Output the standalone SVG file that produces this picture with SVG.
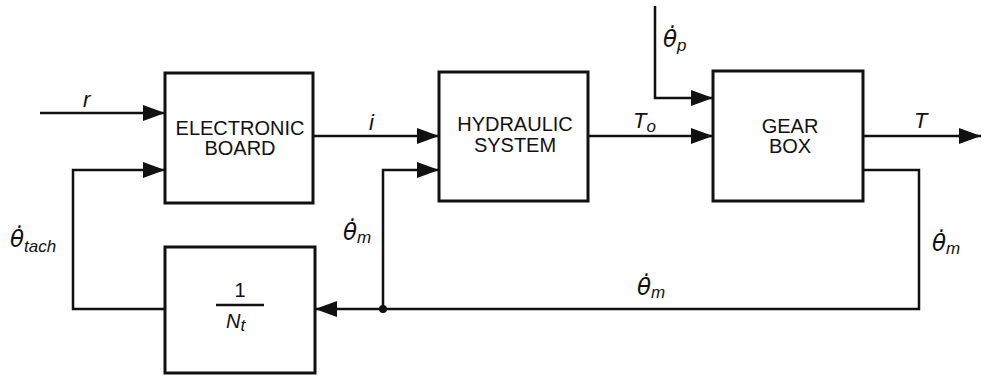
<svg xmlns="http://www.w3.org/2000/svg" width="982" height="379" viewBox="0 0 982 379">
<style>
.box{fill:#fff;stroke:#111;stroke-width:3}
.ln{fill:none;stroke:#111;stroke-width:2.5}
.bt{font-family:"Liberation Sans",Arial,sans-serif;font-size:20px;fill:#111;text-anchor:middle}
.lb{font-family:"Liberation Sans",Arial,sans-serif;font-style:italic;font-size:22px;fill:#111}
.th{font-family:"DejaVu Sans",sans-serif;font-size:23px}
.sub{font-family:"Liberation Sans",Arial,sans-serif;font-size:17px}
</style>
<defs>
<marker id="ah" markerUnits="userSpaceOnUse" markerWidth="22" markerHeight="16" refX="22" refY="8" orient="auto">
<path d="M0,0 L22,8 L0,16 z" fill="#111"/>
</marker>
</defs>
<rect width="982" height="379" fill="#fff"/>
<g id="connectors">
<path class="ln" d="M40,113 H165" marker-end="url(#ah)"/>
<path class="ln" d="M313,136 H439" marker-end="url(#ah)"/>
<path class="ln" d="M588,136 H713" marker-end="url(#ah)"/>
<path class="ln" d="M863,136 H981" marker-end="url(#ah)"/>
<path class="ln" d="M655,6 V98 H713" marker-end="url(#ah)"/>
<path class="ln" d="M165,309 H73 V170 H165" marker-end="url(#ah)"/>
<path class="ln" d="M863,170 H919 V309 H315" marker-end="url(#ah)"/>
<path class="ln" d="M383,309 V170 H439" marker-end="url(#ah)"/>
<circle cx="383" cy="309" r="4" fill="#111"/>
<text class="lb" x="83" y="107">r</text>
<text class="lb" x="369" y="130">i</text>
<text class="lb" x="633" y="128">T<tspan class="sub" dy="4">o</tspan></text>
<text class="lb" x="914" y="128">T</text>
<text class="lb th" x="663" y="47">θ̇<tspan class="sub" dy="4">p</tspan></text>
<text class="lb th" x="10" y="247">θ̇<tspan class="sub" dy="5">tach</tspan></text>
<text class="lb th" x="343" y="240">θ̇<tspan class="sub" dy="3">m</tspan></text>
<text class="lb th" x="637" y="295">θ̇<tspan class="sub" dy="3">m</tspan></text>
<text class="lb th" x="932" y="251">θ̇<tspan class="sub" dy="3">m</tspan></text>
</g>
<g id="electronic-board">
<rect class="box" x="165" y="73" width="148" height="130"/>
<text class="bt" x="240" y="135">ELECTRONIC</text>
<text class="bt" x="240" y="155">BOARD</text>
</g>
<g id="hydraulic-system">
<rect class="box" x="439" y="72" width="149" height="129"/>
<text class="bt" x="515" y="131">HYDRAULIC</text>
<text class="bt" x="515" y="152">SYSTEM</text>
</g>
<g id="gear-box">
<rect class="box" x="713" y="71" width="150" height="130"/>
<text class="bt" x="790" y="133">GEAR</text>
<text class="bt" x="790" y="153">BOX</text>
</g>
<g id="nt-block">
<rect class="box" x="165" y="247" width="150" height="126"/>
<text class="bt" x="240" y="297">1</text>
<line x1="216" y1="305" x2="264" y2="305" stroke="#111" stroke-width="2.5"/>
<text class="lb" x="226" y="328" style="font-size:20px">N<tspan class="sub" dy="3">t</tspan></text>
</g>
</svg>
